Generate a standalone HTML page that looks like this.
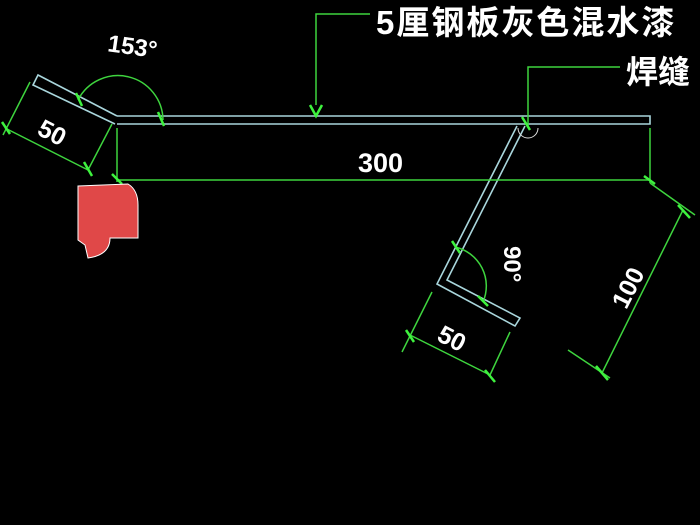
<!DOCTYPE html>
<html><head><meta charset="utf-8"><style>
html,body{margin:0;padding:0;background:#000;}
svg{display:block}
text{font-family:"Liberation Sans","Noto Sans CJK SC",sans-serif;font-weight:bold;fill:#fff;}
</style></head><body>
<svg width="700" height="525" viewBox="0 0 700 525" xmlns="http://www.w3.org/2000/svg">
<rect width="700" height="525" fill="#000"/>
<g fill="none" stroke="#a9d6dc" stroke-width="1.6">
<path d="M117,116 L650,116 L650,124 L117,124"/>
<path d="M117,116 L38,75 L33,85 L115,124"/>
<path d="M517,126 L437,284 L515,326 L520,318 L447,280 L525,126"/>
</g>
<g fill="none" stroke="#3ed43e" stroke-width="1.5">
<path d="M316,116 L316,14 L370,14"/>
<path d="M528,126 L528,67 L620,67"/>
<path d="M117,128 L117,182 M650,128 L650,183 M117,180 L650,180"/>
<path d="M78,100 A45,45 0 0 1 163,120"/>
<path d="M30,82 L3,135 M112,124 L88,170 M5,128 L88,170"/>
<path d="M650,183 L695,215 M568,350 L610,378 M683,210 L602,373"/>
<path d="M455,247 A40,40 0 0 1 483,302"/>
<path d="M432,292 L402,352 M510,332 L490,375 M410,335 L490,375"/>
</g>
<g stroke="#3ef23e" stroke-width="2.5">
<path d="M76,93 L82,106 M158,112 L164,126 M310,105 L316,116 L322,105 M522,117 L530,130 M112,174 L122,184 M644,176 L655,184 M2,122 L10,134 M84,162 L92,176 M678,205 L690,218 M596,366 L608,380 M452,241 L460,253 M478,296 L488,306 M406,330 L414,342 M485,370 L495,382"/>
</g>
<g fill="none" stroke="#ddd" stroke-width="1"><path d="M518,128 A10,10 0 0 0 538,128"/></g>
<text x="376" y="34" font-size="33" letter-spacing="2">5厘钢板灰色混水漆</text>
<text x="626" y="83" font-size="32">焊缝</text>
<text x="358" y="172" font-size="27">300</text>
<text x="108" y="55" font-size="24" transform="rotate(8 135 45)">153°</text>
<text x="38" y="145" font-size="25" transform="rotate(27 60 135)">50</text>
<text x="438" y="350" font-size="25" transform="rotate(27 458 340)">50</text>
<text x="496" y="270" font-size="24" transform="rotate(90 512 262)">90°</text>
<text x="604" y="292" font-size="25" transform="rotate(-63 630 283)">100</text>
<path d="M78,186 L128,184 Q138,190 138,205 L138,238 L110,238 Q110,255 88,258 L85,245 L78,240 Z" fill="#e04848" stroke="#fff" stroke-width="1"/>
</svg>
</body></html>
